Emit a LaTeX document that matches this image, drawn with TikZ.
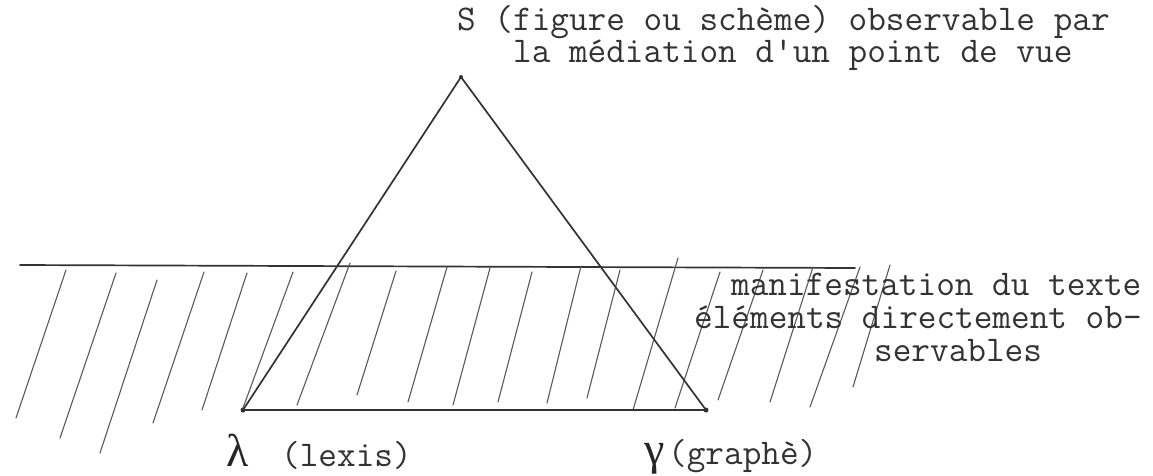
\documentclass[tikz,border=0pt]{standalone}
\usepackage{fontspec}
\newfontfamily\greekhand{Liberation Serif}
\tikzset{
  mainline/.style={line width=1.7pt, draw=black!80, line cap=round, line join=round},
  hatch/.style={line width=1.1pt, draw=black!65, line cap=round},
  vdot/.style={circle, fill=black!80, inner sep=0pt, minimum size=5pt},
  tw/.style={font=\fontsize{36.2}{30}\ttfamily, text=black!80, inner sep=0pt, anchor=base west},
  gk/.style={font=\fontsize{46}{46}\greekhand, text=black!85, inner sep=0pt, anchor=base west}
}
\begin{document}
\begin{tikzpicture}[x=1pt,y=-1pt]
\useasboundingbox (0,0) rectangle (1153,475);
% horizontal line
\coordinate (h1) at (20,265);
\coordinate (h2) at (855,268);
\draw[mainline] (h1) -- (h2);
% hatch lines
\foreach \xa/\ya/\xb/\yb [count=\i] in {
 66/270/16/418, 116/273/60/438, 157/280/100/453, 204/272/153/423,
 247/273/202/410, 293/272/243/408, 350/263/297/405, 396/271/357/395,
 447/267/408/402, 490/268/453/405, 532/272/498/402, 581/266/547/403,
 620/270/587/398, 678/258/633/410, 720/272/675/408, 763/270/718/400,
 813/267/770/402, 860/267/810/407, 890/265/853/387}{
  \coordinate (ha\i) at (\xa,\ya);
  \coordinate (hb\i) at (\xb,\yb);
  \draw[hatch] (ha\i) -- (hb\i);
}
% triangle
\node[vdot, minimum size=4pt] (S) at (461,77) {};
\node[vdot] (L) at (243,410) {};
\node[vdot] (G) at (706,410) {};
\draw[mainline] (S.center) -- (L.center) -- (G.center) -- cycle;
% texts
\node[tw, align=left] (t1) at (457,62) {S (figure ou schème) observable par\\~~~la médiation d\textquotesingle un point de vue};
\node[tw] (m1) at (731,295) {manifestation du texte};
\node[tw] (m2) at (694,328) {éléments directement ob-};
\node[tw] (m3) at (874,361) {servables};
\node[gk] (lam) at (226,466) {λ};
\node[tw] (lx) at (281,466) {(lexis)};
\node[gk] (gam) at (644,464) {γ};
\node[tw] (gr) at (668,464) {(graphè)};
\end{tikzpicture}
\end{document}
